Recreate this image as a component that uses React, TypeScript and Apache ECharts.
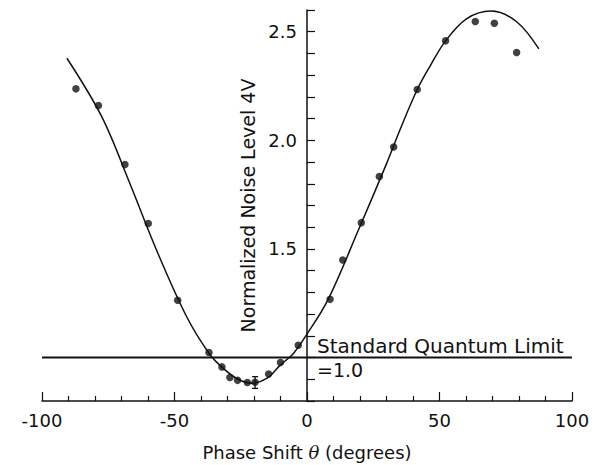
import React, { useEffect, useRef } from 'react';
import * as echarts from 'echarts';

// Measured data points (phase shift in degrees, normalized noise level)
const pointTheta = [-87.2, -78.7, -68.7, -59.9, -48.8, -37.0, -32.1, -29.1, -26.2, -22.5, -19.6, -14.5, -10.0, -3.3, 8.7, 13.5, 20.5, 27.3, 32.7, 41.6, 52.3, 63.5, 70.7, 79.1];
const pointNoise = [2.237, 2.16, 1.889, 1.617, 1.264, 1.023, 0.957, 0.908, 0.895, 0.885, 0.886, 0.924, 0.977, 1.057, 1.268, 1.449, 1.621, 1.833, 1.969, 2.234, 2.458, 2.547, 2.539, 2.404];

// Theoretical curve
const curveTheta = [-90.6, -77.5, -66.8, -56.8, -45.5, -37, -31.6, -26, -21, -15, -10.2, -5.2, 0, 8, 19.4, 30.1, 35.1, 41.6, 46.4, 52.3, 60.3, 69.4, 79.1, 87.5];
const curveNoise = [2.378, 2.11, 1.80, 1.495, 1.19, 1.02, 0.95, 0.90, 0.882, 0.905, 0.964, 1.018, 1.108, 1.268, 1.587, 1.895, 2.049, 2.234, 2.341, 2.458, 2.56, 2.595, 2.546, 2.421];

// Error bar
const errTheta = [-19.6];
const errLow = [0.858];
const errHigh = [0.912];

// Standard quantum limit line
const sqlTheta = [-100, 100];
const sqlLevel = [1.0, 1.0];

const yLabelValues = [1.5, 2.0, 2.5];
const sqlText = 'Standard Quantum Limit';
const sqlValueText = '=1.0';

const FONT = 'DejaVu Sans';

export default function App() {
  const ref = useRef<HTMLDivElement>(null);
  useEffect(() => {
    if (!ref.current) return;
    const chart = echarts.init(ref.current, null, { renderer: 'svg' });
    const ink = '#111';
    chart.setOption({
      animation: false,
      backgroundColor: '#fff',
      grid: { left: 42, right: 27, top: 10, bottom: 64, containLabel: false, outerBoundsMode: 'none' },
      xAxis: {
        type: 'value',
        min: -100,
        max: 100,
        interval: 50,
        splitLine: { show: false },
        axisLine: { onZero: false, lineStyle: { color: ink, width: 1.5 } },
        axisTick: { inside: true, length: 9, lineStyle: { color: ink, width: 1.2 } },
        minorTick: { show: true, splitNumber: 5, length: 5, lineStyle: { color: ink, width: 1.2 } },
        axisLabel: { color: ink, fontFamily: FONT, fontSize: 18, margin: 10, formatter: (v: number) => (v < 0 ? '-' + Math.abs(v) : String(v)) },
        name: '{a|Phase Shift }{i|θ}{a| (degrees)}',
        nameLocation: 'middle',
        nameGap: 42,
        nameTextStyle: {
          rich: {
            a: { fontFamily: FONT, fontSize: 18, color: ink },
            i: { fontFamily: 'DejaVu Serif', fontStyle: 'italic', fontSize: 18, color: ink },
          },
        },
      },
      yAxis: {
        type: 'value',
        min: 0.8,
        max: 2.6,
        interval: 0.1,
        offset: -265,
        splitLine: { show: false },
        axisLine: { onZero: false, lineStyle: { color: ink, width: 1.5 } },
        axisTick: { inside: true, length: 8, lineStyle: { color: ink, width: 1.2 } },
        axisLabel: {
          color: ink,
          fontFamily: FONT,
          fontSize: 18,
          margin: 10,
          formatter: (v: number) => {
            const r = Math.round(v * 10) / 10;
            return yLabelValues.some((t) => Math.abs(t - r) < 1e-6) ? r.toFixed(1) : '';
          },
        },
        name: 'Normalized Noise Level 4V',
        nameLocation: 'middle',
        nameGap: 50,
        nameTextStyle: { fontFamily: FONT, fontSize: 19, color: ink },
      },
      graphic: [
        { type: 'text', left: 317, top: 336, style: { text: sqlText, fontFamily: FONT, fontSize: 20, fill: ink } },
        { type: 'text', left: 317, top: 360, style: { text: sqlValueText, fontFamily: FONT, fontSize: 19, fill: ink } },
      ],
      series: [
        {
          type: 'line',
          data: sqlTheta.map((t, i) => [t, sqlLevel[i]]),
          symbol: 'none',
          lineStyle: { color: ink, width: 2 },
          z: 2,
        },
        {
          type: 'line',
          data: curveTheta.map((t, i) => [t, curveNoise[i]]),
          symbol: 'none',
          smooth: 0.35,
          lineStyle: { color: ink, width: 1.5 },
          z: 3,
        },
        {
          type: 'scatter',
          data: pointTheta.map((t, i) => [t, pointNoise[i]]),
          symbol: 'circle',
          symbolSize: 7.5,
          itemStyle: { color: ink },
          z: 4,
        },
        {
          type: 'custom',
          data: errTheta.map((t, i) => [t, errLow[i], errHigh[i]]),
          encode: { x: 0, y: [1, 2] },
          z: 5,
          renderItem: (_params: any, api: any) => {
            const x = api.value(0);
            const lo = api.coord([x, api.value(1)]);
            const hi = api.coord([x, api.value(2)]);
            const w = 3;
            const style = { stroke: ink, lineWidth: 1.3 };
            return {
              type: 'group',
              children: [
                { type: 'line', shape: { x1: lo[0], y1: lo[1], x2: hi[0], y2: hi[1] }, style },
                { type: 'line', shape: { x1: lo[0] - w, y1: lo[1], x2: lo[0] + w, y2: lo[1] }, style },
                { type: 'line', shape: { x1: hi[0] - w, y1: hi[1], x2: hi[0] + w, y2: hi[1] }, style },
              ],
            };
          },
        },
      ],
    });
    return () => chart.dispose();
  }, []);
  return (
    <div
      ref={ref}
      style={{ position: 'fixed', left: 0, top: 0, width: 599, height: 465, background: '#fff' }}
    />
  );
}
